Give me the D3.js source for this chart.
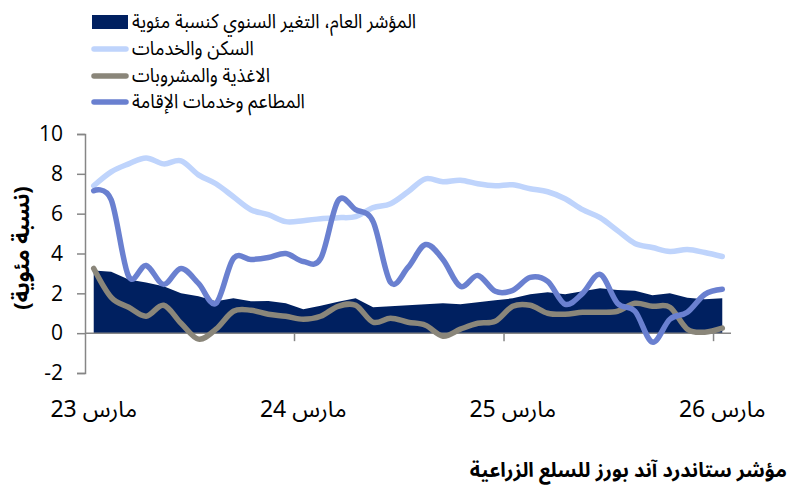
<!DOCTYPE html>
<html>
<head>
<meta charset="utf-8">
<script src="https://cdn.jsdelivr.net/npm/d3@7"></script>
<style>
  body { margin: 0; background: #fff; }
  svg { display: block; }
  text { font-family: "Noto Sans Arabic", "DejaVu Sans", sans-serif; fill: #000; }
  .num { font-family: "Open Sans", "Noto Sans", sans-serif; }
</style>
</head>
<body>
<svg id="chart" width="787" height="494"></svg>
<script>
// months, March 2023 .. March 2026
var months = ["2023-03","2023-04","2023-05","2023-06","2023-07","2023-08","2023-09","2023-10","2023-11","2023-12",
  "2024-01","2024-02","2024-03","2024-04","2024-05","2024-06","2024-07","2024-08","2024-09","2024-10","2024-11","2024-12",
  "2025-01","2025-02","2025-03","2025-04","2025-05","2025-06","2025-07","2025-08","2025-09","2025-10","2025-11","2025-12",
  "2026-01","2026-02","2026-03"];
var tickMonths = ["2023-03","2024-03","2025-03","2026-03"];
var tickLabels = ["مارس 23","مارس 24","مارس 25","مارس 26"];
var yTicks = [-2, 0, 2, 4, 6, 8, 10];

var seriesNames = ["المؤشر العام، التغير السنوي كنسبة مئوية", "السكن والخدمات", "الاغذية والمشروبات", "المطاعم وخدمات الإقامة"];

var general = [3.15,3.08,2.7,2.55,2.35,2.0,1.85,1.6,1.75,1.6,1.62,1.5,1.2,1.38,1.58,1.75,1.3,1.35,1.4,
  1.45,1.5,1.45,1.55,1.65,1.75,1.95,2.05,1.95,2.1,2.25,2.17,2.13,1.9,2.0,1.78,1.7,1.75];
var housing = [7.4,8.1,8.5,8.8,8.5,8.65,7.95,7.5,6.85,6.2,5.95,5.6,5.65,5.75,5.8,5.85,6.3,6.5,7.1,
  7.75,7.6,7.68,7.5,7.4,7.45,7.25,7.1,6.75,6.2,5.8,5.15,4.5,4.3,4.1,4.2,4.05,3.85];
var food = [3.25,1.8,1.3,0.85,1.4,0.5,-0.3,0.2,1.1,1.15,0.95,0.85,0.7,0.85,1.35,1.4,0.55,0.75,0.55,
  0.4,-0.15,0.2,0.5,0.6,1.35,1.4,1.0,0.95,1.05,1.05,1.1,1.5,1.35,1.3,0.2,0.05,0.25];
var restaurants = [7.15,6.7,2.85,3.4,2.45,3.25,2.5,1.5,3.75,3.7,3.8,4.0,3.6,3.75,6.65,6.2,5.6,2.55,3.3,
  4.45,3.7,2.35,2.9,2.1,2.15,2.8,2.6,1.45,2.0,2.95,1.5,1.1,-0.45,0.7,1.05,1.95,2.2];

var colors = ["#002060", "#bfd4fc", "#8a867a", "#6a80d0"];

var svg = d3.select("#chart");

var x = d3.scaleBand().domain(months).range([85, 731]).paddingInner(0).paddingOuter(0);
var y = d3.scaleLinear().domain([-2, 10]).range([373, 134]);
var cx = function(m) { return x(m) + x.bandwidth() / 2; };

// area
var area = d3.area()
  .x(function(d, i) { return cx(months[i]); })
  .y0(y(0))
  .y1(function(d) { return y(d); });
svg.append("path").datum(general)
  .attr("d", area)
  .attr("fill", colors[0]);

// axes
var axisColor = "#868686";
var yAxis = svg.append("g")
  .attr("transform", "translate(85,0)")
  .call(d3.axisLeft(y).tickValues(yTicks).tickSize(8).tickPadding(14).tickFormat(d3.format("d")));
yAxis.select(".domain").attr("stroke", axisColor).attr("stroke-width", 1.5);
yAxis.selectAll(".tick line").attr("stroke", axisColor).attr("stroke-width", 1.5);
yAxis.selectAll(".tick text").attr("class", "num").attr("font-size", 21).attr("fill", "#000")
  .text(function(d) { return d < 0 ? "-" + Math.abs(d) : d; });

var xg = svg.append("g");
xg.append("line")
  .attr("x1", 85).attr("x2", 731)
  .attr("y1", y(0)).attr("y2", y(0))
  .attr("stroke", axisColor).attr("stroke-width", 1.5);
xg.selectAll("line.tk").data(tickMonths.slice(1)).enter().append("line")
  .attr("class", "tk")
  .attr("x1", function(d) { return x(d); }).attr("x2", function(d) { return x(d); })
  .attr("y1", y(0)).attr("y2", y(0) + 8)
  .attr("stroke", axisColor).attr("stroke-width", 1.5);
xg.selectAll("text").data(tickMonths).enter().append("text")
  .attr("x", function(d) { return cx(d); })
  .attr("y", 417)
  .attr("text-anchor", "middle")
  .attr("font-size", 23)
  .text(function(d, i) { return tickLabels[i]; });

// lines
var line = d3.line()
  .x(function(d, i) { return cx(months[i]); })
  .y(function(d) { return y(d); })
  .curve(d3.curveCardinal.tension(0));

[housing, food, restaurants].forEach(function(s, k) {
  svg.append("path").datum(s)
    .attr("d", line)
    .attr("fill", "none")
    .attr("stroke", colors[k + 1])
    .attr("stroke-width", 5.5)
    .attr("stroke-linejoin", "round")
    .attr("stroke-linecap", "round");
});

// y title
svg.append("text")
  .attr("transform", "translate(22,248) rotate(-90)")
  .attr("text-anchor", "middle")
  .attr("dominant-baseline", "central")
  .attr("font-size", 22)
  .attr("font-weight", "bold")
  .text("(نسبة مئوية)");

// legend
var legY = [22, 49, 76, 102];
var leg = svg.append("g");
leg.append("rect").attr("x", 92).attr("y", 15).attr("width", 36).attr("height", 14).attr("fill", colors[0]);
[1, 2, 3].forEach(function(k) {
  leg.append("line")
    .attr("x1", 94).attr("x2", 126)
    .attr("y1", legY[k]).attr("y2", legY[k])
    .attr("stroke", colors[k]).attr("stroke-width", 5.5)
    .attr("stroke-linecap", "round");
});
leg.selectAll("text").data(seriesNames).enter().append("text")
  .attr("transform", function(d, i) { return "translate(132," + legY[i] + ") scale(0.9,1)"; })
  .attr("dominant-baseline", "central")
  .attr("font-size", 20)
  .text(function(d) { return d; });

// footer
svg.append("text")
  .attr("x", 787)
  .attr("y", 471)
  .attr("direction", "rtl")
  .attr("text-anchor", "start")
  .attr("dominant-baseline", "central")
  .attr("font-size", 20)
  .attr("font-weight", "bold")
  .text("مؤشر ستاندرد آند بورز للسلع الزراعية");
</script>
</body>
</html>
